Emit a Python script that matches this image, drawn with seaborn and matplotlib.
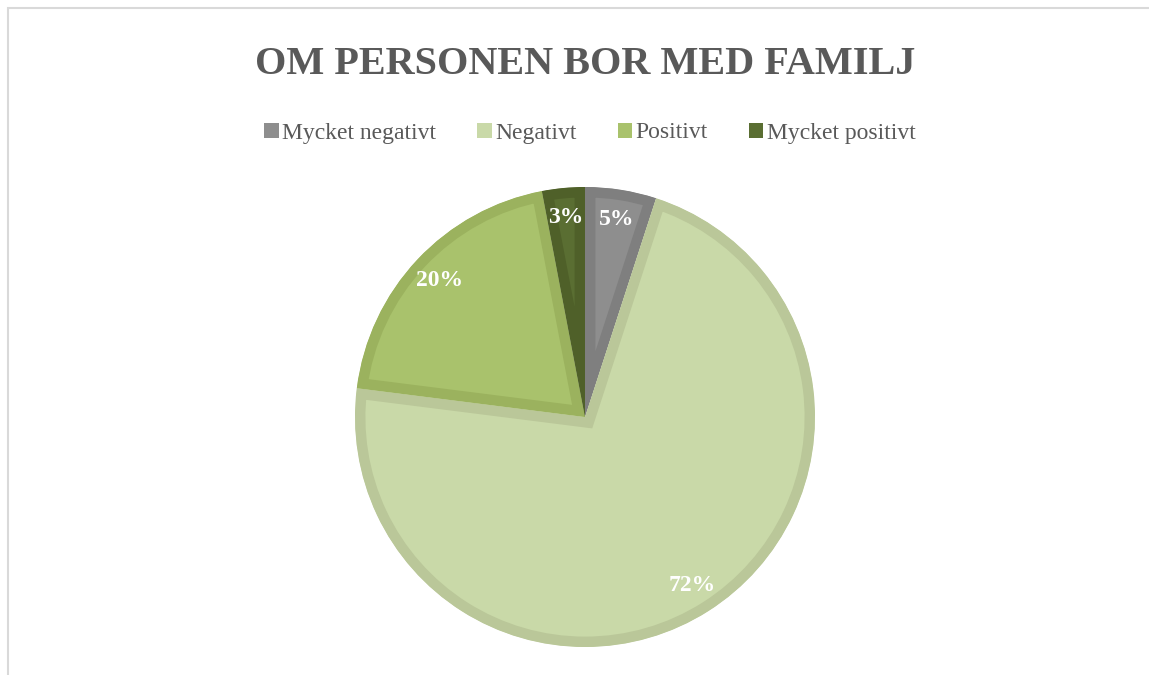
import matplotlib
matplotlib.use("Agg")
import matplotlib.pyplot as plt
import seaborn as sns
from matplotlib.patches import Rectangle

sns.set_theme(style="white")
plt.rcParams['font.family'] = ['Liberation Serif', 'DejaVu Serif']

categories = ["Mycket negativt", "Negativt", "Positivt", "Mycket positivt"]
values = [5, 72, 20, 3]
title = "OM PERSONEN BOR MED FAMILJ"

fill_colors = ["#8e8e8e", "#c9d9a8", "#a9c26c", "#5a6e32"]
edge_colors = ["#7f7f7f", "#bac799", "#9bb25e", "#4f6029"]

fig = plt.figure(figsize=(11.49, 6.75), dpi=100)
fig.patch.set_facecolor("white")

# frame (left/top visible, rest cropped)
fig.add_artist(Rectangle((8 / 1149, -0.1), 1.2, 1 - 8 / 675 + 0.1,
                         transform=fig.transFigure, fill=False,
                         edgecolor="#d9d9d9", linewidth=1.5))

# pie axes: center (585, 417), radius 230 px
r = 230
cx, cy = 585, 417
ax = fig.add_axes([(cx - r) / 1149, (675 - cy - r) / 675, 2 * r / 1149, 2 * r / 675])
ax.set_aspect("equal")

wedges, texts, autotexts = ax.pie(
    values, colors=fill_colors, startangle=90, counterclock=False,
    autopct=lambda p: f"{p:.0f}%", pctdistance=0.87, radius=1.0,
    wedgeprops=dict(linewidth=15, joinstyle="miter"),
    textprops=dict(color="white", fontsize=17, fontweight="bold"))
for w, ec in zip(wedges, edge_colors):
    w.set_edgecolor(ec)
    w.set_clip_on(True)
    w.set_clip_path(w)
ax.set_xlim(-1, 1)
ax.set_ylim(-1, 1)
ax.axis("off")

fig.text(585 / 1149, 1 - 64 / 675, title, ha="center", va="center",
         fontsize=29, fontweight="bold", color="#595959")

handles = [Rectangle((0, 0), 1, 1, facecolor=c, edgecolor="none") for c in fill_colors]
leg = fig.legend(handles, categories, loc="center", ncol=4,
                 bbox_to_anchor=(590 / 1149, 1 - 133 / 675), frameon=False,
                 fontsize=17, handlelength=0.6, handleheight=0.6,
                 handletextpad=0.15, columnspacing=1.75, labelcolor="#595959")

fig.savefig("out.png", dpi=100, facecolor="white")
